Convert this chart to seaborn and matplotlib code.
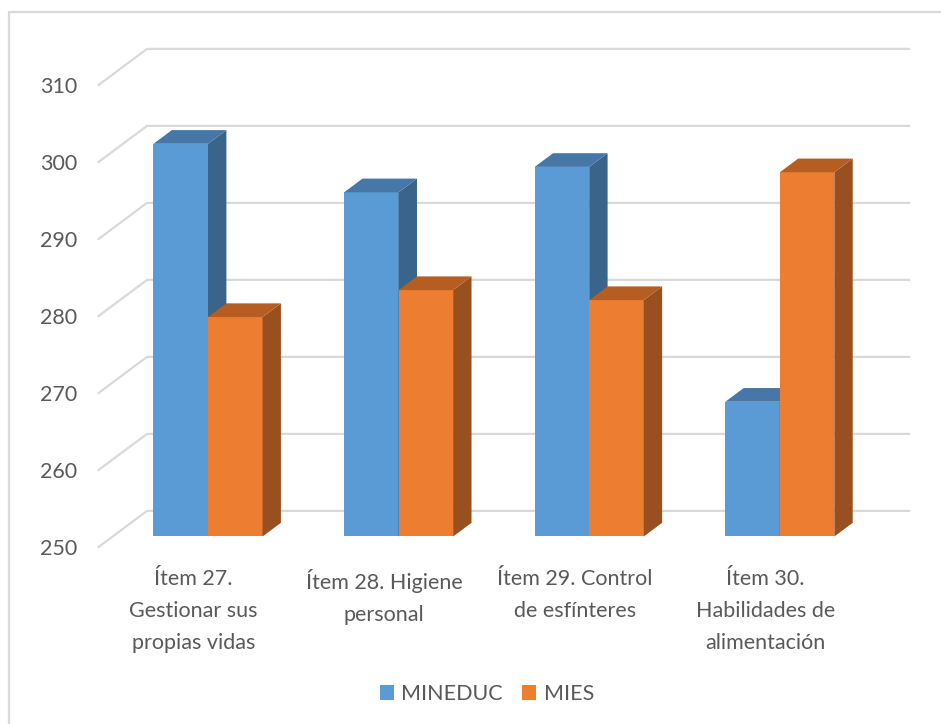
import numpy as np
import pandas as pd
import matplotlib
matplotlib.use("Agg")
import matplotlib.pyplot as plt
import matplotlib.transforms as mtransforms
from matplotlib.patches import Polygon, Patch
from matplotlib.lines import Line2D
import seaborn as sns

# ---------------- data ----------------
categories = [
    "Ítem 27.\nGestionar sus\npropias vidas",
    "Ítem 28. Higiene\npersonal",
    "Ítem 29. Control\nde esfínteres",
    "Ítem 30.\nHabilidades de\nalimentación",
]
series = ["MINEDUC", "MIES"]
mineduc = [301, 294.7, 298, 267.5]
mies = [278.5, 282, 280.7, 297.3]
yticks = [250, 260, 270, 280, 290, 300, 310]

front_colors = {"MINEDUC": "#5B9BD5", "MIES": "#ED7D31"}
top_colors = {"MINEDUC": "#4677A6", "MIES": "#B65E22"}
side_colors = {"MINEDUC": "#3A6489", "MIES": "#98501E"}
grid_color = "#D9D9D9"
text_color = "#595959"

df = pd.DataFrame({
    "Ítem": categories * 2,
    "Valor": mineduc + mies,
    "Serie": [series[0]] * 4 + [series[1]] * 4,
})

sns.set_style("white")
plt.rcParams["font.family"] = ["Lato", "DejaVu Sans"]

W, H, DPI = 941, 724, 100
fig = plt.figure(figsize=(W / DPI, H / DPI), dpi=DPI)
ax = fig.add_axes([0.11977, 0.25898, 0.8102, 0.63812])

sns.barplot(data=df, x="Ítem", y="Valor", hue="Serie", order=categories,
            hue_order=series, palette=front_colors, saturation=1, width=0.572, gap=0,
            linewidth=0, legend=False, ax=ax)
ax.set_xlim(-0.5, 3.5)
ax.set_ylim(250, 310)
for s in ax.spines.values():
    s.set_visible(False)
ax.set_xlabel("")
ax.set_ylabel("")

# 3D offsets (pixels, display coords: y up)
BACK = (34.3, 25.6)      # bar plane -> back wall
FRONT = (-14.4, -10.7)   # bar plane -> front edge of floor
DEPTH = (18.4, 13.7)     # bar depth

fig.canvas.draw()
to_disp = ax.transData
to_data = ax.transData.inverted()


def shift(pt, off):
    d = to_disp.transform(pt)
    return to_data.transform((d[0] + off[0], d[1] + off[1]))


# gridlines (back wall + left wall)
x0, x1 = -0.5, 3.5
for v in yticks:
    a = shift((x0, v), FRONT)
    b = shift((x0, v), BACK)
    c = shift((x1, v), BACK)
    ax.add_line(Line2D([a[0], b[0], c[0]], [a[1], b[1], c[1]], color=grid_color,
                       lw=1.6, zorder=0.5, clip_on=False, solid_joinstyle="miter"))

# bars: side & top faces
for i, (name, cont) in enumerate(zip(series, ax.containers)):
    zf = 2 + 2 * i
    for p in cont.patches:
        p.set_zorder(zf)
        xl = p.get_x()
        xr = xl + p.get_width()
        yb = max(p.get_y(), 250)
        yt = p.get_y() + p.get_height()
        side = [(xr, yb), (xr, yt), shift((xr, yt), DEPTH), shift((xr, yb), DEPTH)]
        top = [(xl, yt), (xr, yt), shift((xr, yt), DEPTH), shift((xl, yt), DEPTH)]
        ax.add_patch(Polygon(side, closed=True, facecolor=side_colors[name],
                             edgecolor="none", zorder=zf + 0.5, clip_on=False))
        ax.add_patch(Polygon(top, closed=True, facecolor=top_colors[name],
                             edgecolor="none", zorder=zf + 0.5, clip_on=False))

# ticks
FS = 15.5
ax.set_yticks(yticks)
ax.set_yticklabels([str(v) for v in yticks])
ax.tick_params(axis="y", length=0, pad=15.3, labelsize=FS, labelcolor=text_color)
ax.tick_params(axis="x", length=0, pad=15.5, labelsize=FS, labelcolor=text_color)
off = mtransforms.ScaledTranslation(FRONT[0] / DPI, FRONT[1] / DPI, fig.dpi_scale_trans)
for lab in ax.get_yticklabels():
    lab.set_transform(lab.get_transform() + off)
for lab in ax.get_xticklabels():
    lab.set_transform(lab.get_transform() + off)
    lab.set_linespacing(1.75)
    lab.set_horizontalalignment("center")
ax.grid(False)

# legend
handles = [Patch(facecolor=front_colors[s], edgecolor="none", label=s) for s in series]
leg = fig.legend(handles=handles, loc="center", bbox_to_anchor=(487 / W, 1 - 694 / H),
                 ncol=2, frameon=False, fontsize=FS, handlelength=0.65, handleheight=0.65,
                 handletextpad=0.35, columnspacing=0.9, labelcolor=text_color)

# chart border
fig.add_artist(Line2D([9 / W, 9 / W], [-0.01, 1 - 12 / H], transform=fig.transFigure,
                      color=grid_color, lw=1.6))
fig.add_artist(Line2D([9 / W, 1.01], [1 - 12 / H, 1 - 12 / H], transform=fig.transFigure,
                      color=grid_color, lw=1.6))

fig.savefig("out.png", dpi=DPI, facecolor="white")
